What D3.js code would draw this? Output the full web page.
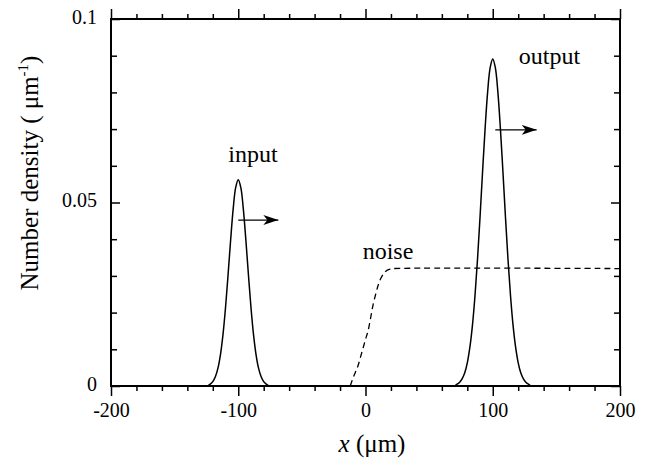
<!DOCTYPE html>
<html>
<head>
<meta charset="UTF-8">
<script src="https://d3js.org/d3.v7.min.js"></script>
<style>
  body { margin: 0; background: #fff; }
  .tick line { stroke: #000; stroke-width: 1.5; }
  .domain { display: none; }
</style>
</head>
<body>
<svg width="654" height="468"></svg>
<script>
// values
const xTicksMajor = [-200, -100, 0, 100, 200];
const xTickLabels = ["-200", "-100", "0", "100", "200"];
const yTicksMajor = [0, 0.05, 0.1];
const yTickLabels = ["0", "0.05", "0.1"];

const inputPts = [
  [-124, 0], [-122, 0.0005], [-120, 0.0012], [-118, 0.0025], [-116, 0.0048],
  [-114, 0.0085], [-112, 0.0140], [-110, 0.0214], [-108, 0.0303], [-106, 0.0397],
  [-104, 0.0482], [-102, 0.0541], [-100, 0.0562], [-98, 0.0541], [-96, 0.0482],
  [-94, 0.0397], [-92, 0.0303], [-90, 0.0214], [-88, 0.0140], [-86, 0.0085],
  [-84, 0.0048], [-82, 0.0025], [-80, 0.0012], [-78, 0.0005], [-76, 0]
];
const outputPts = [
  [70, 0], [72, 0.0005], [74, 0.0010], [76, 0.0020], [78, 0.0036], [80, 0.0063],
  [82, 0.0105], [84, 0.0164], [86, 0.0244], [88, 0.0344], [90, 0.0460],
  [92, 0.0584], [94, 0.0702], [96, 0.0802], [98, 0.0868], [100, 0.0891],
  [102, 0.0868], [104, 0.0802], [106, 0.0702], [108, 0.0584], [110, 0.0460],
  [112, 0.0344], [114, 0.0244], [116, 0.0164], [118, 0.0105], [120, 0.0063],
  [122, 0.0036], [124, 0.0020], [126, 0.0010], [128, 0.0005], [130, 0]
];
const noisePts = [
  [-12, 0], [-10, 0.0020], [-8, 0.0037], [-6, 0.0054], [-4, 0.0078], [-2, 0.0102],
  [0, 0.0127], [2, 0.0150], [4, 0.0185], [6, 0.0222], [8, 0.0250], [10, 0.0275],
  [12, 0.0293], [14, 0.0305], [16, 0.0313], [18, 0.0317], [20, 0.0319],
  [22, 0.0320], [200, 0.0320]
];
const inputArrow = [[-100, 0.0452], [-68.5, 0.0452]];
const outputArrow = [[102, 0.0698], [134.5, 0.0698]];
const labels = [
  {text: "input", x: -88.4, y: 0.061},
  {text: "output", x: 144.6, y: 0.0877},
  {text: "noise", x: 17.7, y: 0.0345}
];

const serif = "'Liberation Serif', 'Times New Roman', Times, 'DejaVu Serif', serif";

const svg = d3.select("svg");
const margin = {top: 19, right: 34, bottom: 82, left: 111};
const width = 654 - margin.left - margin.right;
const height = 468 - margin.top - margin.bottom;

const x = d3.scaleLinear().domain([-200, 200]).range([0, width]);
const y = d3.scaleLinear().domain([0, 0.1]).range([height, 0]);

const g = svg.append("g")
    .attr("transform", `translate(${margin.left},${margin.top})`);

const xMinor = d3.range(-200, 201, 20).filter(v => !xTicksMajor.includes(v));
const yMinor = d3.range(0, 11).map(i => i / 100).filter(v => !yTicksMajor.includes(v));

// bottom: outward ticks
g.append("g").attr("transform", `translate(0,${height})`)
    .call(d3.axisBottom(x).tickValues(xTicksMajor).tickSize(10).tickPadding(7)
        .tickFormat((d, i) => xTickLabels[i]))
    .call(a => a.selectAll("text").attr("font-size", 20));
g.append("g").attr("transform", `translate(0,${height})`)
    .call(d3.axisBottom(x).tickValues(xMinor).tickSize(5).tickFormat(""));
// top: outward ticks, no labels
g.append("g")
    .call(d3.axisTop(x).tickValues(xTicksMajor).tickSize(10).tickFormat(""));
g.append("g")
    .call(d3.axisTop(x).tickValues(xMinor).tickSize(5).tickFormat(""));
// left: inward ticks
g.append("g")
    .call(d3.axisLeft(y).tickValues(yTicksMajor).tickSize(-9).tickPadding(14)
        .tickFormat((d, i) => yTickLabels[i]))
    .call(a => a.selectAll("text").attr("font-size", 20).attr("dy", "0.2em"));
g.append("g")
    .call(d3.axisLeft(y).tickValues(yMinor).tickSize(-6).tickFormat(""));
// right: inward ticks
g.append("g").attr("transform", `translate(${width},0)`)
    .call(d3.axisRight(y).tickValues(yTicksMajor).tickSize(-9).tickFormat(""));
g.append("g").attr("transform", `translate(${width},0)`)
    .call(d3.axisRight(y).tickValues(yMinor).tickSize(-6).tickFormat(""));

g.append("rect")
    .attr("width", width).attr("height", height)
    .attr("fill", "none").attr("stroke", "#000").attr("stroke-width", 2);

const line = d3.line()
    .x(d => x(d[0]))
    .y(d => y(d[1]))
    .curve(d3.curveCatmullRom);

g.append("path").datum(inputPts)
    .attr("d", line).attr("fill", "none").attr("stroke", "#000").attr("stroke-width", 1.5);
g.append("path").datum(outputPts)
    .attr("d", line).attr("fill", "none").attr("stroke", "#000").attr("stroke-width", 1.5);
g.append("path").datum(noisePts)
    .attr("d", line).attr("fill", "none").attr("stroke", "#000")
    .attr("stroke-width", 1.3).attr("stroke-dasharray", "6,4");

// arrows
svg.append("defs").append("marker")
    .attr("id", "head")
    .attr("markerUnits", "userSpaceOnUse")
    .attr("markerWidth", 16).attr("markerHeight", 12)
    .attr("refX", 15).attr("refY", 6)
    .attr("orient", "auto")
  .append("path")
    .attr("d", "M0,1 L15,6 L0,11 L4,6 Z")
    .attr("fill", "#000");

[inputArrow, outputArrow].forEach(a => {
  g.append("line")
      .attr("x1", x(a[0][0])).attr("y1", y(a[0][1]))
      .attr("x2", x(a[1][0])).attr("y2", y(a[1][1]))
      .attr("stroke", "#000").attr("stroke-width", 1.2)
      .attr("marker-end", "url(#head)");
});

g.selectAll(".ann").data(labels).enter().append("text")
    .attr("class", "ann")
    .attr("x", d => x(d.x)).attr("y", d => y(d.y))
    .attr("text-anchor", "middle")
    .attr("font-size", 24)
    .text(d => d.text);

// axis titles
const xt = svg.append("text")
    .attr("x", 372).attr("y", 452)
    .attr("text-anchor", "middle")
    .attr("font-size", 25);
xt.append("tspan").attr("font-style", "italic").text("x");
xt.append("tspan").text(" (μm)");

const yt = svg.append("text")
    .attr("transform", "translate(38,173) rotate(-90)")
    .attr("text-anchor", "middle")
    .attr("font-size", 25);
yt.append("tspan").text("Number density ( μm");
yt.append("tspan").attr("font-size", 15).attr("dy", "-10").text("-1");
yt.append("tspan").attr("dy", "10").text(")");

svg.selectAll("text").attr("font-family", serif).style("font-family", serif).attr("fill", "#000");
</script>
</body>
</html>
